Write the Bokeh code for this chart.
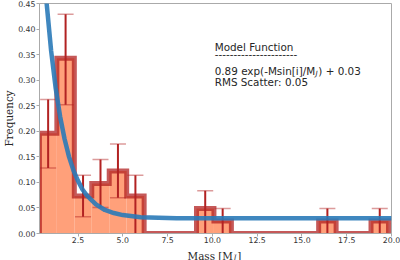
from bokeh.plotting import figure
from bokeh.layouts import column
from bokeh.models import Range1d, FixedTicker, NumeralTickFormatter, Label
from bokeh.core.properties import value
from bokeh.embed import file_html
from bokeh.resources import INLINE

# ---- data ----
bin_edges = [0.345, 1.319, 2.294, 3.268, 4.242, 5.217, 6.191, 7.165, 8.139, 9.114,
             10.088, 11.062, 12.037, 13.011, 13.985, 14.960, 15.934, 16.908, 17.882,
             18.857, 19.831]
frequency = [0.196, 0.343, 0.0735, 0.098, 0.1225, 0.0735, 0.0, 0.0, 0.0, 0.049,
             0.0245, 0.0, 0.0, 0.0, 0.0, 0.0, 0.0245, 0.0, 0.0, 0.0245]
err_upper = [0.262, 0.429, 0.114, 0.145, 0.175, 0.114, 0.0, 0.0, 0.0, 0.0835,
             0.049, 0.0, 0.0, 0.0, 0.0, 0.0, 0.049, 0.0, 0.0, 0.049]
err_lower = [0.128, 0.252, 0.033, 0.051, 0.070, 0.0, 0.0, 0.0, 0.0, 0.0,
             0.0, 0.0, 0.0, 0.0, 0.0, 0.0, 0.0, 0.0, 0.0, 0.0]
model_mass = [0.35, 0.5, 0.75, 1.0, 1.25, 1.5, 1.75, 2.0, 2.25, 2.5, 2.75, 3.0, 3.5,
              4.0, 4.5, 5.0, 6.0, 7.0, 8.0, 10.0, 12.0, 16.0, 20.0]
model_freq = [0.657, 0.570, 0.450, 0.357, 0.285, 0.229, 0.185, 0.150, 0.123, 0.103,
              0.086, 0.074, 0.057, 0.046, 0.040, 0.036, 0.032, 0.031, 0.030, 0.030,
              0.030, 0.030, 0.030]
x_ticks = [2.5, 5.0, 7.5, 10.0, 12.5, 15.0, 17.5, 20.0]
y_ticks = [0.00, 0.05, 0.10, 0.15, 0.20, 0.25, 0.30, 0.35, 0.40, 0.45]
y_label = "Frequency"
x_label_parts = ["Mass [M", "J", "]"]
title_text = "Model Function"
model_text_a = "0.89 exp(-Msin[i]/M"
model_text_sub = "J"
model_text_b = ") + 0.03"
rms_text = "RMS Scatter: 0.05"

# ---- styling ----
FILL = "#ffa07a"
EDGE = "#b22222"
CURVE = "#2a7ab8"
GRAY = "#aaaaaa"
TXT = "#262626"
SANS = "DejaVu Sans"
SERIF = "DejaVu Serif"

W = 400
H_MAIN = 245
H_XLAB = 15
BL, BR = 34, 9

x_rng = Range1d(0.35, 20.0)
p = figure(width=W, height=H_MAIN, output_backend="svg", toolbar_location=None,
           x_range=x_rng, y_range=Range1d(0.0, 0.45),
           min_border_left=BL, min_border_right=BR, min_border_top=3,
           min_border_bottom=12)
p.background_fill_color = "white"
p.border_fill_color = "white"
p.outline_line_color = GRAY
p.outline_line_width = 1
p.xgrid.visible = False
p.ygrid.visible = False

# histogram fill
lefts = bin_edges[:-1]
rights = bin_edges[1:]
p.quad(left=lefts, right=rights, bottom=[0.0] * len(frequency), top=frequency,
       fill_color=FILL, fill_alpha=1.0, line_color=None)

# step outline built from edges and heights
sx = [bin_edges[0]]
sy = [0.0]
for i, h in enumerate(frequency):
    sx += [bin_edges[i], bin_edges[i + 1]]
    sy += [h, h]
sx.append(bin_edges[-1])
sy.append(0.0)
p.line(sx, sy, line_color=EDGE, line_alpha=0.75, line_width=5, line_join="miter")

# error bars
centers = [(a + b) / 2 for a, b in zip(lefts, rights)]
ex = [c for c, f in zip(centers, frequency) if f > 0]
eu = [u for u, f in zip(err_upper, frequency) if f > 0]
el = [l for l, f in zip(err_lower, frequency) if f > 0]
p.segment(x0=ex, y0=el, x1=ex, y1=eu, line_color=EDGE, line_width=2)
p.scatter(x=ex, y=eu, marker="dash", size=16, line_color=EDGE, line_alpha=0.45,
          line_width=1.5)
lx = [c for c, l in zip(ex, el) if l > 0]
ly = [l for l in el if l > 0]
p.scatter(x=lx, y=ly, marker="dash", size=16, line_color=EDGE, line_alpha=0.45,
          line_width=1.5)

# model curve
p.line(model_mass, model_freq, line_color=CURVE, line_alpha=0.9, line_width=4.5)

# axes
for ax in (p.xaxis[0], p.yaxis[0]):
    ax.axis_line_color = GRAY
    ax.major_tick_line_color = GRAY
    ax.major_tick_out = 3
    ax.major_tick_in = 0
    ax.minor_tick_line_color = None
    ax.major_label_text_font = SANS
    ax.major_label_text_font_size = "7.8px"
    ax.major_label_text_color = "#333333"
p.xaxis.major_label_standoff = 0
p.yaxis.major_label_standoff = 1
p.xaxis.ticker = FixedTicker(ticks=x_ticks)
p.yaxis.ticker = FixedTicker(ticks=y_ticks)
p.xaxis.formatter = NumeralTickFormatter(format="0.0")
p.yaxis.formatter = NumeralTickFormatter(format="0.00")
p.yaxis.axis_label = y_label
p.yaxis.axis_label_text_font = SERIF
p.yaxis.axis_label_text_font_size = "10.4px"
p.yaxis.axis_label_text_font_style = "normal"
p.yaxis.axis_label_text_color = TXT
p.yaxis.axis_label_standoff = 0

# annotation text block
ax_, ay_ = 10.13, 0.364
def txt(text, xo, yo, size="10.4px", style="normal"):
    p.add_layout(Label(x=ax_, y=ay_, x_offset=xo, y_offset=yo, text=text,
                       text_align="left", text_baseline="alphabetic",
                       text_font=SANS, text_font_size=size,
                       text_font_style=style, text_color=TXT))

txt(title_text, 0, 0)
txt("-" * 22, 0, -7)
txt(model_text_a, 0, -23.4)
txt(model_text_sub, 100.9, -26.2, size="7.3px", style="italic")
txt(model_text_b, 103.6, -23.4)
txt(rms_text, 0, -35)

# x-axis label strip: shares the x range and side borders of the main plot
q = figure(width=W, height=H_XLAB, output_backend="svg", toolbar_location=None,
           x_range=x_rng, y_range=Range1d(0, H_XLAB),
           x_axis_type=None, y_axis_type=None, title=None,
           min_border_left=BL, min_border_right=BR, min_border_top=0,
           min_border_bottom=0)
q.outline_line_color = None
q.xgrid.visible = False
q.ygrid.visible = False
q.background_fill_color = "white"
q.border_fill_color = "white"
mid = (x_rng.start + x_rng.end) / 2
q.text(x=[mid], y=[4.3], x_offset=17.5, text=[x_label_parts[0]], text_align="right",
       text_baseline="alphabetic", text_font=value(SERIF), text_font_size="10.4px",
       text_color=TXT)
q.text(x=[mid], y=[2.6], x_offset=17.9, text=[x_label_parts[1]], text_align="left",
       text_baseline="alphabetic", text_font=value(SERIF), text_font_style="italic",
       text_font_size="7.3px", text_color=TXT)
q.text(x=[mid], y=[4.3], x_offset=21.7, text=[x_label_parts[2]], text_align="left",
       text_baseline="alphabetic", text_font=value(SERIF), text_font_size="10.4px",
       text_color=TXT)

layout = column(p, q, spacing=0)
open("out.html", "w").write(file_html(layout, INLINE))
